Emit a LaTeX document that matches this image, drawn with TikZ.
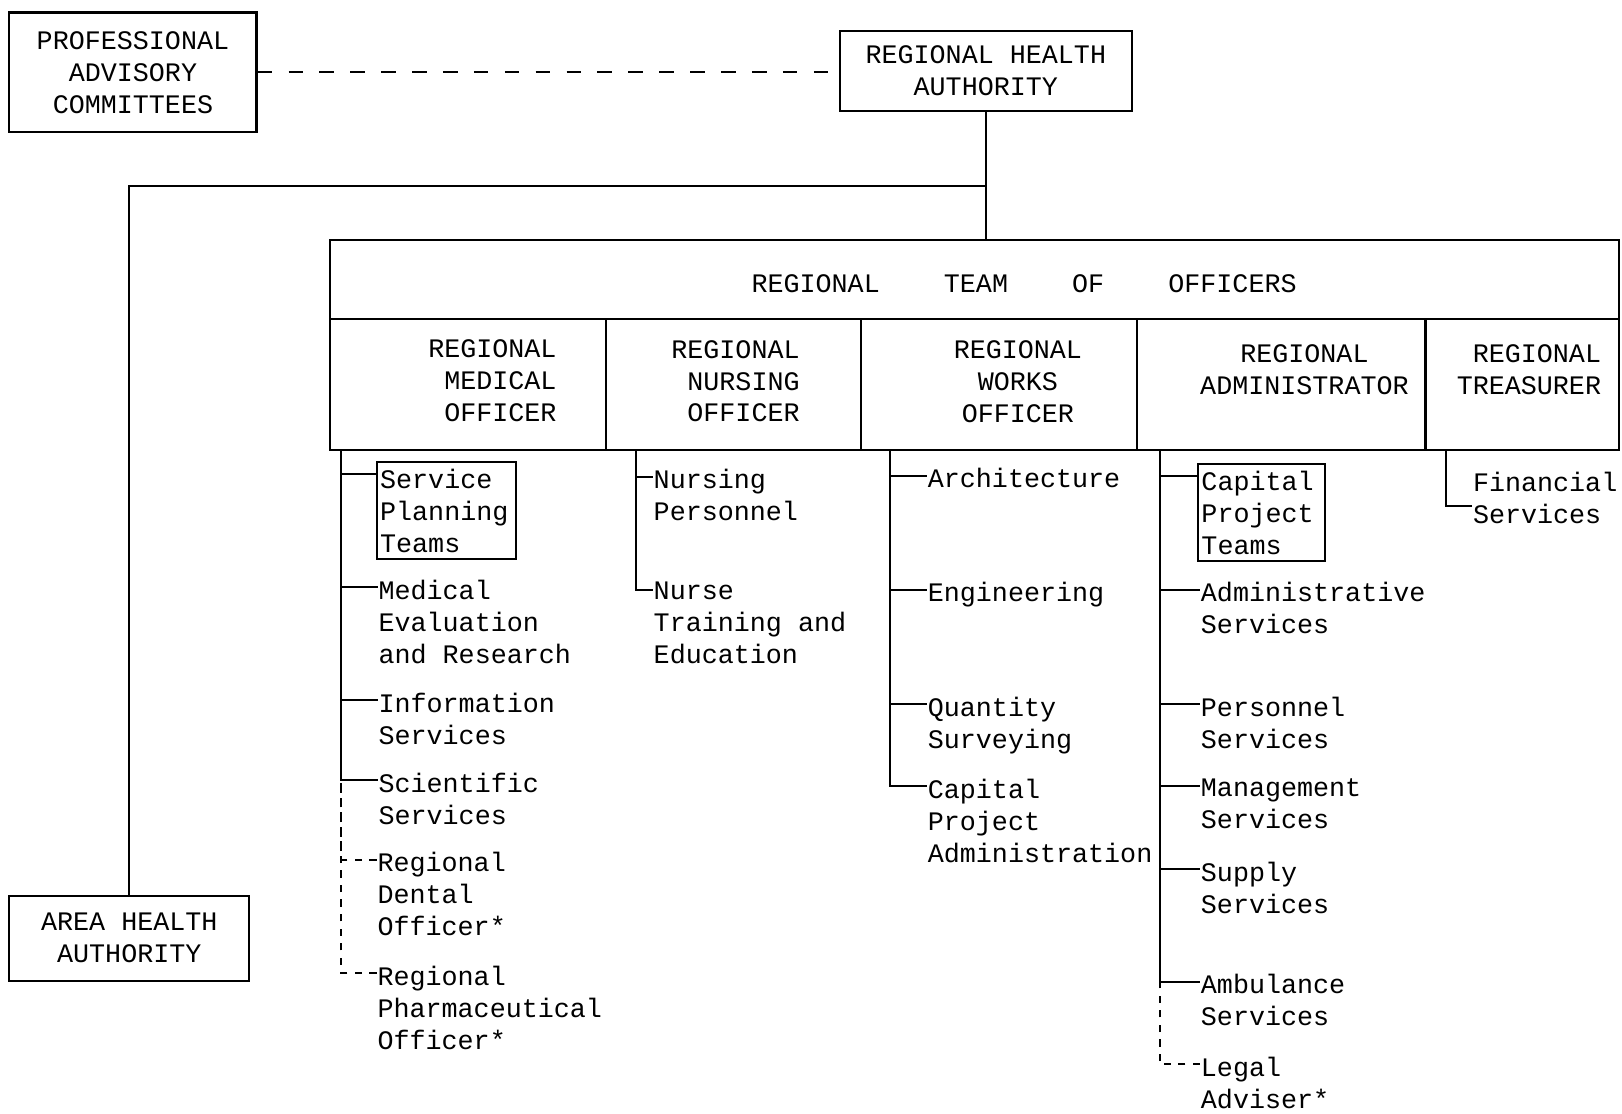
\documentclass[tikz,border=0pt]{standalone}
\usepackage{fontspec}
\newfontfamily\tw{Liberation Mono}

\begin{document}
\begin{tikzpicture}[x=0.02cm,y=-0.02cm,line width=1.1pt,
	every node/.style={font=\tw\fontsize{14.7}{17.6}\selectfont},
	box/.style={draw,align=center,inner sep=0pt,line width=1.2pt},
	head/.style={align=center,inner sep=0pt},
	sub/.style={anchor=north west,align=left,inner sep=0pt},
	team/.style={draw,anchor=north west,align=left,inner xsep=2pt,inner ysep=3.5pt},
	longdash/.style={dash pattern=on 8pt off 9pt},
	shortdash/.style={dash pattern=on 4pt off 4pt}]
		\useasboundingbox (0,0) rectangle (1568,1076);
		\node[box,minimum width=4.78cm,minimum height=2.32cm] (pac) at (128.5,70) {PROFESSIONAL\\ADVISORY\\COMMITTEES};
		\node[box,minimum width=5.64cm,minimum height=1.54cm] (rha) at (953,68.5) {REGIONAL HEALTH\\AUTHORITY};
		\node[box,minimum width=4.64cm,minimum height=1.64cm] (aha) at (125,907) {AREA HEALTH\\AUTHORITY};
		\draw[longdash] (pac.east) -- (pac.east -| rha.west);
		\coordinate (fork) at (953,180);
		\coordinate (top) at (953,232);
		\draw (rha.south) -- (top);
		\draw (fork) -| (aha);
		\draw[line width=1.2pt] (319,232) rectangle (1565,435);
		\draw[line width=1.2pt] (319,308) -- (1565,308);
		\foreach \x in {586,832,1099,1378}
			\draw[line width=1.2pt] (\x,308) -- (\x,435);
		\node (rto) at (990,274) {REGIONAL\ \ \ \ TEAM\ \ \ \ OF\ \ \ \ OFFICERS};
		\node[head,align=right] (rmo) at (476,368) {REGIONAL\\MEDICAL\\OFFICER};
		\node[head,align=right] (rno) at (711,368.5) {REGIONAL\\NURSING\\OFFICER};
		\node[head] (rwo) at (984,369) {REGIONAL\\WORKS\\OFFICER};
		\node[head] (rad) at (1261,357.5) {REGIONAL\\ADMINISTRATOR};
		\node[head,align=right] (rtr) at (1478,357.5) {REGIONAL\\TREASURER};
		\coordinate (med) at (330,435);
		\coordinate (nur) at (615,435);
		\coordinate (wrk) at (860,435);
		\coordinate (adm) at (1121,435);
		\coordinate (trs) at (1398,435);
		\node[team,text width=2.56cm] (spt) at (363,446) {Service\\Planning\\Teams};
		\node[sub] (mer) at (365,560) {Medical\\Evaluation\\and Research};
		\node[sub] (ins) at (365,669) {Information\\Services};
		\node[sub] (scs) at (365,746) {Scientific\\Services};
		\node[sub] (rdo) at (364,823) {Regional\\Dental\\Officer*};
		\node[sub] (rpo) at (364,933) {Regional\\Pharmaceutical\\Officer*};
		\node[sub] (nps) at (631,453) {Nursing\\Personnel};
		\node[sub] (nte) at (631,562) {Nurse\\Training and\\Education};
		\node[sub] (arc) at (896,452) {Architecture};
		\node[sub] (eng) at (896,562) {Engineering};
		\node[sub] (qsv) at (896,673) {Quantity\\Surveying};
		\node[sub] (cpa) at (896,752) {Capital\\Project\\Administration};
		\node[team,text width=2.32cm] (cpt) at (1157,448) {Capital\\Project\\Teams};
		\node[sub] (ads) at (1160,562) {Administrative\\Services};
		\node[sub] (pss) at (1160,673) {Personnel\\Services};
		\node[sub] (mgs) at (1160,752) {Management\\Services};
		\node[sub] (sus) at (1160,832) {Supply\\Services};
		\node[sub] (ams) at (1160,941) {Ambulance\\Services};
		\node[sub] (lad) at (1160,1021) {Legal\\Adviser*};
		\node[sub] (fns) at (1423,455) {Financial\\Services};
		\draw ([yshift=-6.8pt]spt.north west) -| (med);
		\foreach \n in {mer,ins,scs}
			\draw ([yshift=-4.5pt]\n.north west) -| (med);
		\foreach \n in {rdo,rpo}
			\draw[shortdash] ([yshift=-4.5pt]\n.north west) -| (med);
		\foreach \n in {nps,nte}
			\draw ([yshift=-4.5pt]\n.north west) -| (nur);
		\foreach \n in {arc,eng,qsv,cpa}
			\draw ([yshift=-4.5pt]\n.north west) -| (wrk);
		\draw ([yshift=-6.8pt]cpt.north west) -| (adm);
		\foreach \n in {ads,pss,mgs,sus,ams}
			\draw ([yshift=-4.5pt]\n.north west) -| (adm);
		\draw[shortdash] ([yshift=-4.5pt]lad.north west) -| (adm);
		\draw ([yshift=-4.5pt]fns.west) -| (trs);
	\end{tikzpicture}
\end{document}
